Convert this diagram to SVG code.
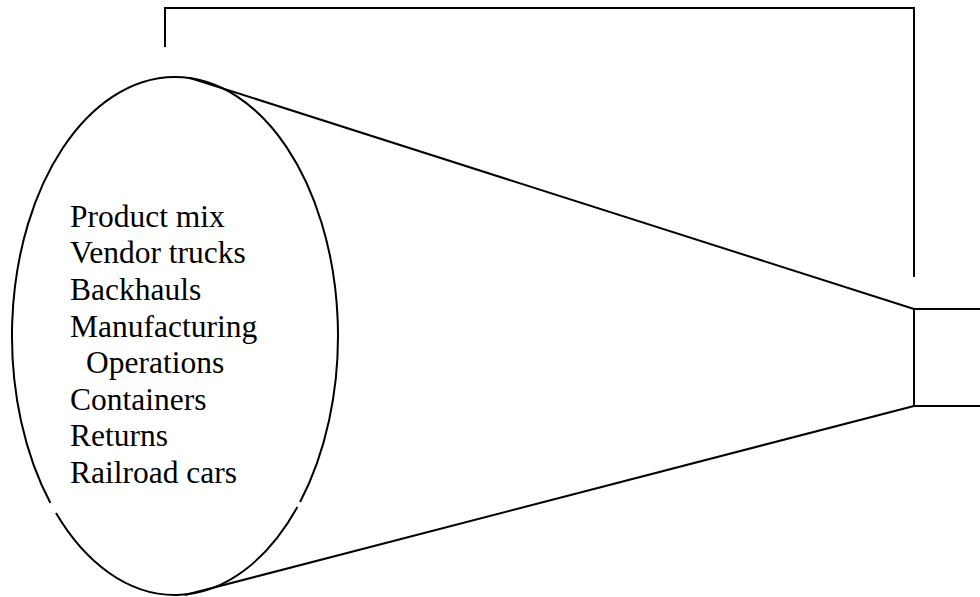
<svg xmlns="http://www.w3.org/2000/svg" width="980" height="597" viewBox="0 0 980 597">
  <style>
    .ln { fill: none; stroke: #000; stroke-width: 2; }
    .lbl { font-family: "Liberation Serif", "Times New Roman", serif; font-size: 31.5px; fill: #000; }
  </style>
  <rect width="980" height="597" fill="#fff"/>

  <!-- funnel: the ellipse listing the inputs (two small breaks in the outline) -->
  <g id="inputs">
    <path class="ln" d="M 56 513 A 163 259 0 0 0 297.4 507 M 300.1 502 A 163 259 0 1 0 50.4 503"/>
    <text class="lbl" x="70" y="226.7">Product mix</text>
    <text class="lbl" x="70" y="263.3">Vendor trucks</text>
    <text class="lbl" x="70" y="299.9">Backhauls</text>
    <text class="lbl" x="70" y="336.5">Manufacturing</text>
    <text class="lbl" x="86" y="373.1">Operations</text>
    <text class="lbl" x="70" y="409.7">Containers</text>
    <text class="lbl" x="70" y="446.3">Returns</text>
    <text class="lbl" x="70" y="482.9">Railroad cars</text>
  </g>

  <!-- funnel outlet box -->
  <g id="outlet">
    <path class="ln" d="M 980 309 H 914 V 406 H 980"/>
  </g>

  <g id="connectors">
    <!-- funnel sides -->
    <line class="ln" x1="190" y1="78" x2="914" y2="309"/>
    <line class="ln" x1="185" y1="595" x2="914" y2="406"/>
    <!-- bracket over the top -->
    <path class="ln" d="M 165 47 V 8 H 914 V 277"/>
  </g>
</svg>
